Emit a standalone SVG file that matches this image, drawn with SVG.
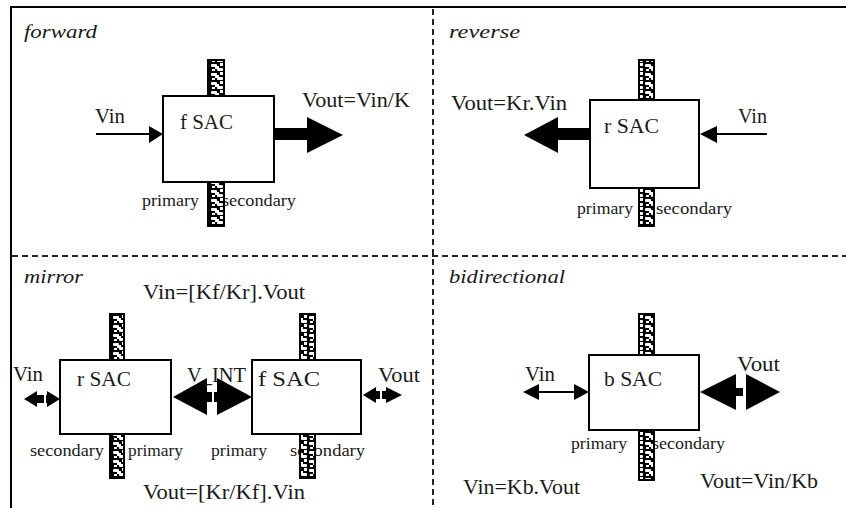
<svg xmlns="http://www.w3.org/2000/svg" width="846" height="508" viewBox="0 0 846 508">
<defs>
<pattern id="strip" patternUnits="userSpaceOnUse" width="14" height="9">
<rect width="14" height="9" fill="#000"/>
<rect x="1" y="1" width="6" height="3" rx="1" fill="#fff"/>
<rect x="7" y="5" width="6" height="3" rx="1" fill="#fff"/>
<rect x="5" y="3" width="4" height="3" fill="#fff"/>
<rect x="10" y="0" width="3" height="3" fill="#fff"/>
<rect x="2" y="6" width="3" height="2" fill="#fff"/>
</pattern>
</defs>
<style>
text{font-family:"Liberation Serif","Times New Roman",serif;fill:#1a1a1a}
.t{font-size:20px}
.s{font-size:16px}
.it{font-size:19px;font-style:italic}
.box{fill:#fff;stroke:#000;stroke-width:2}
.strip{fill:url(#strip);stroke:#000;stroke-width:2}
.thin{stroke:#000;stroke-width:2;fill:none}
.frame{stroke:#000;stroke-width:2;fill:none}
.dash{stroke:#222;stroke-width:2;stroke-dasharray:6 4;fill:none}
</style>
<rect width="846" height="508" fill="#fff"/>
<g id="frame">
<path class="frame" d="M11 508 V7 H846"/>
<path class="dash" d="M433 9 V508"/>
<path class="dash" d="M12 256 H846"/>
</g>
<g id="panel-titles">
<text class="it" x="24" y="38" textLength="73" lengthAdjust="spacingAndGlyphs">forward</text>
<text class="it" x="449" y="38" textLength="71" lengthAdjust="spacingAndGlyphs">reverse</text>
<text class="it" x="24" y="283" textLength="59" lengthAdjust="spacingAndGlyphs">mirror</text>
<text class="it" x="449" y="283" textLength="116" lengthAdjust="spacingAndGlyphs">bidirectional</text>
</g>
<g id="labels">
<text class="t" x="95" y="123" textLength="30" lengthAdjust="spacingAndGlyphs">Vin</text>
<text class="t" x="302" y="107" textLength="108" lengthAdjust="spacingAndGlyphs">Vout=Vin/K</text>
<text class="s" x="142" y="206" textLength="57" lengthAdjust="spacingAndGlyphs">primary</text>
<text class="s" x="222" y="206" textLength="74" lengthAdjust="spacingAndGlyphs">secondary</text>
<text class="t" x="451" y="110" textLength="116" lengthAdjust="spacingAndGlyphs">Vout=Kr.Vin</text>
<text class="t" x="738" y="123" textLength="29" lengthAdjust="spacingAndGlyphs">Vin</text>
<text class="s" x="577" y="214" textLength="56" lengthAdjust="spacingAndGlyphs">primary</text>
<text class="s" x="656" y="214" textLength="76" lengthAdjust="spacingAndGlyphs">secondary</text>
<text class="t" x="143" y="299" textLength="162" lengthAdjust="spacingAndGlyphs">Vin=[Kf/Kr].Vout</text>
<text class="t" x="13" y="381" textLength="30" lengthAdjust="spacingAndGlyphs">Vin</text>
<text class="t" x="187" y="382" textLength="59" lengthAdjust="spacingAndGlyphs">V_INT</text>
<text class="t" x="378" y="382" textLength="42" lengthAdjust="spacingAndGlyphs">Vout</text>
<text class="s" x="30" y="456" textLength="74" lengthAdjust="spacingAndGlyphs">secondary</text>
<text class="s" x="128" y="456" textLength="55" lengthAdjust="spacingAndGlyphs">primary</text>
<text class="s" x="211" y="456" textLength="56" lengthAdjust="spacingAndGlyphs">primary</text>
<text class="s" x="290" y="456" textLength="75" lengthAdjust="spacingAndGlyphs">secondary</text>
<text class="t" x="143" y="499" textLength="162" lengthAdjust="spacingAndGlyphs">Vout=[Kr/Kf].Vin</text>
<text class="t" x="525" y="381" textLength="30" lengthAdjust="spacingAndGlyphs">Vin</text>
<text class="t" x="737" y="371" textLength="43" lengthAdjust="spacingAndGlyphs">Vout</text>
<text class="s" x="571" y="449" textLength="56" lengthAdjust="spacingAndGlyphs">primary</text>
<text class="s" x="652" y="449" textLength="73" lengthAdjust="spacingAndGlyphs">secondary</text>
<text class="t" x="463" y="494" textLength="117" lengthAdjust="spacingAndGlyphs">Vin=Kb.Vout</text>
<text class="t" x="700" y="488" textLength="118" lengthAdjust="spacingAndGlyphs">Vout=Vin/Kb</text>
</g>
<g id="fSAC-forward">
<rect class="strip" x="208" y="60" width="16" height="36"/>
<rect class="strip" x="208" y="182" width="16" height="44"/>
<rect class="box" x="163" y="96" width="111" height="86"/>
<text class="t" x="180" y="129" textLength="53" lengthAdjust="spacingAndGlyphs">f SAC</text>
</g>
<g id="rSAC-reverse">
<rect class="strip" x="639" y="60" width="15" height="40"/>
<rect class="strip" x="639" y="188" width="15" height="38"/>
<rect class="box" x="590" y="100" width="109" height="88"/>
<text class="t" x="604" y="133" textLength="55" lengthAdjust="spacingAndGlyphs">r SAC</text>
</g>
<g id="rSAC-mirror">
<rect class="strip" x="110" y="314" width="14" height="46"/>
<rect class="strip" x="110" y="434" width="14" height="44"/>
<rect class="box" x="60" y="360" width="111" height="74"/>
<text class="t" x="77" y="386" textLength="54" lengthAdjust="spacingAndGlyphs">r SAC</text>
</g>
<g id="fSAC-mirror">
<rect class="strip" x="300" y="314" width="15" height="46"/>
<rect class="strip" x="300" y="434" width="15" height="44"/>
<rect class="box" x="252" y="360" width="109" height="74"/>
<text class="t" x="258" y="386" textLength="62" lengthAdjust="spacingAndGlyphs">f SAC</text>
</g>
<g id="bSAC">
<rect class="strip" x="639" y="314" width="15" height="41"/>
<rect class="strip" x="639" y="430" width="15" height="50"/>
<rect class="box" x="589" y="355" width="110" height="75"/>
<text class="t" x="604" y="386" textLength="58" lengthAdjust="spacingAndGlyphs">b SAC</text>
</g>
<g id="connectors" fill="#000">
<line class="thin" x1="96" y1="134" x2="150" y2="134"/>
<polygon points="149,126 163,134 149,143"/>
<rect x="275" y="128" width="33" height="12"/>
<polygon points="307,117 343,135 307,153"/>
<rect x="557" y="128" width="33" height="12"/>
<polygon points="558,117 524,135 558,153"/>
<line class="thin" x1="767" y1="134" x2="716" y2="134"/>
<polygon points="717,126 700,134 717,143"/>
<polygon points="37,391 24,399 37,407"/>
<rect x="36" y="395" width="8" height="8"/>
<rect x="46" y="395" width="2" height="8"/>
<polygon points="47,391 60,399 47,407"/>
<polygon points="207,378 173,397 207,415"/>
<rect x="206" y="392" width="6" height="10"/>
<rect x="214" y="392" width="4" height="10"/>
<polygon points="217,378 252,397 217,415"/>
<polygon points="376,387 363,395 376,403"/>
<rect x="375" y="391" width="5" height="8"/>
<rect x="382" y="391" width="5" height="8"/>
<polygon points="386,387 402,395 386,403"/>
<line class="thin" x1="538" y1="392" x2="575" y2="392"/>
<polygon points="539,384 523,392 539,400"/>
<polygon points="574,384 589,392 574,400"/>
<polygon points="736,374 700,392 736,410"/>
<rect x="735" y="388" width="8" height="8"/>
<polygon points="746,374 780,392 746,410"/>
</g>
</svg>
